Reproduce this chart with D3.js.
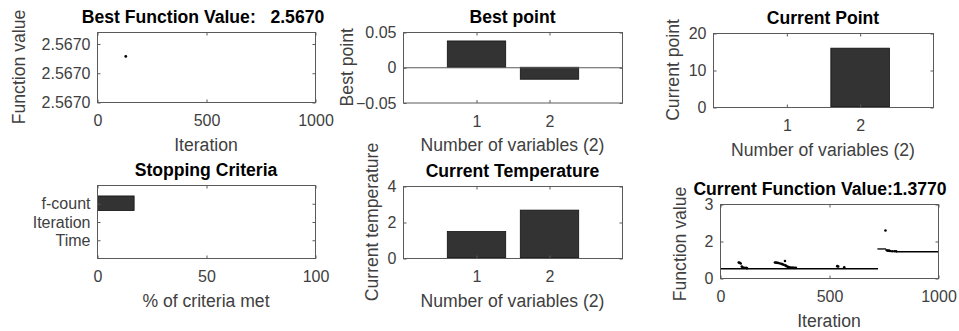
<!DOCTYPE html>
<html>
<head>
<meta charset="utf-8">
<script src="https://cdn.jsdelivr.net/npm/d3@7"></script>
<style>
  html, body { margin: 0; padding: 0; background: #fff; }
  svg { display: block; }
  text { font-family: "Liberation Sans", Arial, Helvetica, sans-serif; }
</style>
</head>
<body>
<svg id="chart" width="959" height="331"></svg>
<script>
// ---------------- DATA ----------------
const iterTicks = [0, 500, 1000];

// Best Function Value panel
const bestFvalTitle = "Best Function Value:   2.5670";
const bestFvalIter = [132];
const bestFvalValue = [2.5670028];
const bestFvalTicks = [2.566995, 2.567000, 2.567005];

// Best point panel
const varCats = [1, 2];
const bestPoint = [0.0373, -0.0170];
const bestPointTicks = [-0.05, 0, 0.05];

// Current Point panel
const currentPoint = [0, 15.9];
const currentPointTicks = [0, 10, 20];

// Stopping Criteria panel
const stopCats = ["f-count", "Iteration", "Time"];
const stopPct = [16.8, 0, 0];
const pctTicks = [0, 50, 100];

// Current Temperature panel
const tempValues = [1.47, 2.66];
const tempTicks = [0, 2, 4];

// Current Function Value panel
const cfTitle = "Current Function Value:1.3770";
const cfTicks = [0, 2, 4];
const cfTickLabels = ["0", "2", "3"];
const cfRunStart = [0, 722, 808];
const cfRunEnd = [725, 762, 1000];
const cfRunValue = [0.50, 1.57, 1.42];
const cfDotIter = [86, 90, 95, 100, 104, 110, 120, 124,
                   252, 258, 265, 272, 280, 286, 292, 298, 300, 305, 312, 318, 325, 333, 340, 348,
                   538, 542, 570,
                   759, 765, 770, 775, 780, 790, 800, 808];
const cfDotValue = [0.84, 0.82, 0.78, 0.62, 0.57, 0.55, 0.55, 0.53,
                    0.84, 0.83, 0.82, 0.80, 0.77, 0.75, 0.72, 0.92, 0.68, 0.64, 0.60, 0.58, 0.56, 0.56, 0.55, 0.55,
                    0.64, 0.62, 0.58,
                    2.57, 1.50, 1.47, 1.48, 1.46, 1.45, 1.45, 1.44];

// ---------------- DRAWING ----------------
const svg = d3.select("#chart");
const TXT = "#404040", BOX = "#5a5a5a", BAR = "#333333";
const TICK_FS = 16, LAB_FS = 17.6;

function panel(o) {
  const g = svg.append("g");
  const {x0, x1, y0, y1} = o.box;
  const x = o.x.range([x0, x1]);
  const y = o.y.range([y1, y0]);
  g.append("rect").attr("x", x0 + 0.5).attr("y", y0 + 0.5)
    .attr("width", x1 - x0).attr("height", y1 - y0)
    .attr("fill", "#fff").attr("stroke", "none");
  const marks = g.append("g");
  function style(ax) {
    ax.attr("font-family", null).attr("font-size", null);
    ax.select(".domain").remove();
    ax.selectAll(".tick line").attr("stroke", BOX);
    ax.selectAll(".tick text").attr("fill", TXT).attr("font-size", TICK_FS);
  }
  const bx = g.append("g").attr("transform", `translate(0.5,${y1 + 0.5})`)
    .call(d3.axisBottom(x).tickValues(o.xTicks).tickFormat(o.xFormat || d3.format("d"))
      .tickSizeInner(-3).tickSizeOuter(0).tickPadding(12.6));
  style(bx);
  const tx = g.append("g").attr("transform", `translate(0.5,${y0 + 0.5})`)
    .call(d3.axisTop(x).tickValues(o.xTicks).tickFormat("").tickSizeInner(-3).tickSizeOuter(0));
  style(tx);
  const ly = g.append("g").attr("transform", `translate(${x0 + 0.5},0.5)`)
    .call(d3.axisLeft(y).tickValues(o.yTicks).tickFormat(o.yFormat || d3.format("d"))
      .tickSizeInner(-3).tickSizeOuter(0).tickPadding(7));
  style(ly);
  const ry = g.append("g").attr("transform", `translate(${x1 + 0.5},0.5)`)
    .call(d3.axisRight(y).tickValues(o.yTicks).tickFormat("").tickSizeInner(-3).tickSizeOuter(0));
  style(ry);
  g.append("rect").attr("x", x0 + 0.5).attr("y", y0 + 0.5)
    .attr("width", x1 - x0).attr("height", y1 - y0)
    .attr("fill", "none").attr("stroke", BOX).attr("stroke-width", 1);
  g.append("text").attr("x", o.titleX != null ? o.titleX : (x0 + x1) / 2).attr("y", y0 - 9)
    .attr("text-anchor", "middle").attr("font-weight", "bold").attr("font-size", LAB_FS)
    .attr("fill", "#000").style("white-space", "pre").text(o.title);
  g.append("text").attr("x", (x0 + x1) / 2).attr("y", y1 + 48.5)
    .attr("text-anchor", "middle").attr("font-size", LAB_FS).attr("fill", TXT).text(o.xLabel);
  if (o.yLabel) {
    g.append("text").attr("transform", `translate(${o.yLabelX},${o.yLabelY != null ? o.yLabelY : (y0 + y1) / 2}) rotate(-90)`)
      .attr("text-anchor", "middle").attr("dy", "0.35em").attr("font-size", LAB_FS)
      .attr("fill", TXT).text(o.yLabel);
  }
  return {g: marks, x, y};
}

// Panel 1: Best Function Value
{
  const p = panel({
    box: {x0: 97, x1: 315, y0: 32, y1: 102},
    x: d3.scaleLinear().domain([0, 1000]),
    y: d3.scaleLinear().domain([2.566995, 2.56700697]),
    xTicks: iterTicks, yTicks: bestFvalTicks, yFormat: d3.format(".4f"),
    title: bestFvalTitle, titleX: 203, xLabel: "Iteration", yLabel: "Function value", yLabelX: 19
  });
  p.g.selectAll("circle").data(bestFvalIter).join("circle")
    .attr("cx", (d) => p.x(d)).attr("cy", (d, i) => p.y(bestFvalValue[i]))
    .attr("r", 1.4).attr("fill", "#000");
}

// Panel 2: Best point
{
  const p = panel({
    box: {x0: 403, x1: 622, y0: 32, y1: 102.5},
    x: d3.scaleLinear().domain([0, 3]),
    y: d3.scaleLinear().domain([-0.05, 0.05]),
    xTicks: varCats, yTicks: bestPointTicks, yFormat: (d) => d === 0 ? "0" : d3.format(".2f")(d),
    title: "Best point", xLabel: "Number of variables (2)", yLabel: "Best point", yLabelX: 347
  });
  p.g.selectAll("rect").data(bestPoint).join("rect")
    .attr("x", (d, i) => p.x(varCats[i] - 0.4) + 0.5).attr("width", p.x(0.8) - p.x(0))
    .attr("y", (d) => p.y(Math.max(0, d))).attr("height", (d) => Math.abs(p.y(d) - p.y(0)))
    .attr("fill", BAR).attr("stroke", "#111").attr("stroke-width", 0.8);
  p.g.append("line").attr("x1", p.x(0)).attr("x2", p.x(3) + 1)
    .attr("y1", p.y(0) + 0.5).attr("y2", p.y(0) + 0.5).attr("stroke", BOX).attr("stroke-width", 1);
}

// Panel 3: Current Point
{
  const p = panel({
    box: {x0: 713, x1: 933, y0: 33, y1: 107},
    x: d3.scaleLinear().domain([0, 3]),
    y: d3.scaleLinear().domain([0, 20]),
    xTicks: varCats, yTicks: currentPointTicks,
    title: "Current Point", xLabel: "Number of variables (2)", yLabel: "Current point", yLabelX: 673
  });
  p.g.selectAll("rect").data(currentPoint).join("rect")
    .attr("x", (d, i) => p.x(varCats[i] - 0.4) + 0.5).attr("width", p.x(0.8) - p.x(0))
    .attr("y", (d) => p.y(d)).attr("height", (d) => p.y(0) - p.y(d))
    .attr("fill", BAR).attr("stroke", "#111").attr("stroke-width", 0.8)
    .attr("display", (d) => d > 0 ? null : "none");
}

// Panel 4: Stopping Criteria
{
  const p = panel({
    box: {x0: 97, x1: 315, y0: 185, y1: 258},
    x: d3.scaleLinear().domain([0, 100]),
    y: d3.scaleLinear().domain([4, 0]),
    xTicks: pctTicks, yTicks: [1, 2, 3], yFormat: (d) => stopCats[d - 1],
    title: "Stopping Criteria", xLabel: "% of criteria met"
  });
  p.g.selectAll("rect").data(stopPct).join("rect")
    .attr("x", p.x(0) + 0.5).attr("width", (d) => p.x(d) - p.x(0))
    .attr("y", (d, i) => p.y(i + 1 - 0.4)).attr("height", p.y(0.8) - p.y(0))
    .attr("fill", BAR).attr("stroke", "#111").attr("stroke-width", 0.8)
    .attr("display", (d) => d > 0 ? null : "none");
}

// Panel 5: Current Temperature
{
  const p = panel({
    box: {x0: 403, x1: 622, y0: 186, y1: 258},
    x: d3.scaleLinear().domain([0, 3]),
    y: d3.scaleLinear().domain([0, 4]),
    xTicks: varCats, yTicks: tempTicks,
    title: "Current Temperature", xLabel: "Number of variables (2)", yLabel: "Current temperature", yLabelX: 372
  });
  p.g.selectAll("rect").data(tempValues).join("rect")
    .attr("x", (d, i) => p.x(varCats[i] - 0.4) + 0.5).attr("width", p.x(0.8) - p.x(0))
    .attr("y", (d) => p.y(d)).attr("height", (d) => p.y(0) - p.y(d))
    .attr("fill", BAR).attr("stroke", "#111").attr("stroke-width", 0.8);
}

// Panel 6: Current Function Value
{
  const p = panel({
    box: {x0: 720, x1: 938, y0: 204, y1: 278},
    x: d3.scaleLinear().domain([0, 1000]),
    y: d3.scaleLinear().domain([0, 4]),
    xTicks: iterTicks, yTicks: cfTicks, yFormat: (d, i) => cfTickLabels[i],
    title: cfTitle, titleX: 820, xLabel: "Iteration", yLabel: "Function value", yLabelX: 680, yLabelY: 244
  });
  p.g.selectAll("line").data(cfRunValue).join("line")
    .attr("x1", (d, i) => p.x(cfRunStart[i])).attr("x2", (d, i) => p.x(cfRunEnd[i]))
    .attr("y1", (d) => p.y(d)).attr("y2", (d) => p.y(d))
    .attr("stroke", "#000").attr("stroke-width", 1.3);
  p.g.selectAll("circle").data(cfDotValue).join("circle")
    .attr("cx", (d, i) => p.x(cfDotIter[i])).attr("cy", (d) => p.y(d))
    .attr("r", 1.3).attr("fill", "#000");
}
</script>
</body>
</html>
